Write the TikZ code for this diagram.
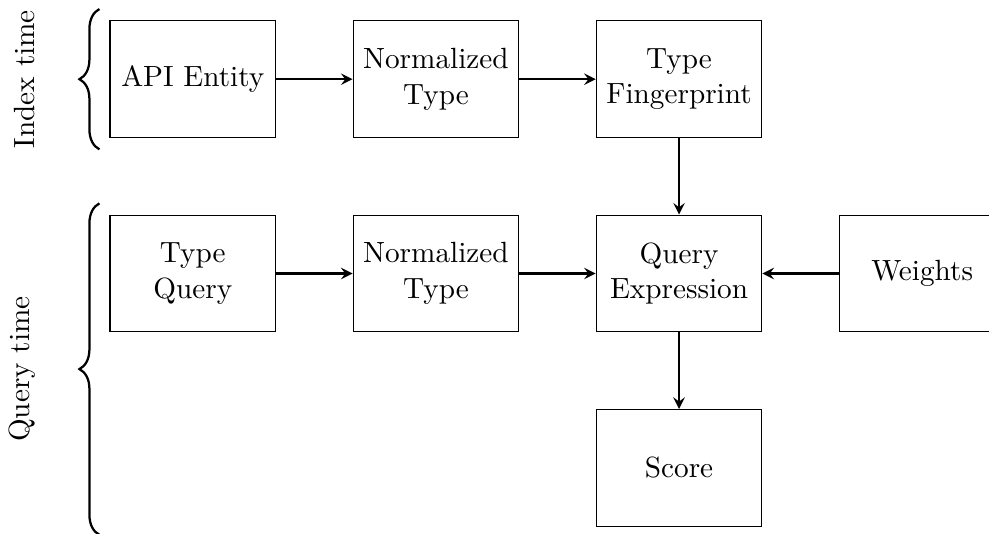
\documentclass[tikz,border=0pt]{standalone}
\usetikzlibrary{arrows,positioning,calc,decorations.pathreplacing}

\begin{document}
\begin{tikzpicture}[auto, node distance=0.955cm,
    every node/.style={font=\fontsize{10.4pt}{12.6pt}\selectfont},
    box/.style={rectangle, draw, minimum width=2.07cm, minimum height=1.46cm, align=center},
    flow/.style={-stealth, thick},
    bracestyle/.style={decorate, decoration={brace, amplitude=0.25cm}, thick}]
    \useasboundingbox (0,0) rectangle (12.3625,-6.675);

    % index time row
    \node[box] (api) at (2.41,-0.99) {API Entity};
    \node[box, right=of api] (ntype) {Normalized\\Type};
    \node[box, right=of ntype] (fp) {Type\\Fingerprint};

    % query time rows
    \node[box, below=of api] (tquery) {Type\\Query};
    \node[box, right=of tquery] (nquery) {Normalized\\Type};
    \node[box, right=of nquery] (qexpr) {Query\\Expression};
    \node[box, right=of qexpr] (weights) {Weights};
    \node[box, below=of qexpr] (score) {Score};

    \draw[flow] (api) -- (ntype);
    \draw[flow] (ntype) -- (fp);
    \draw[flow] (fp) -- (qexpr);
    \draw[flow] (tquery) -- (nquery);
    \draw[flow] (nquery) -- (qexpr);
    \draw[flow] (weights) -- (qexpr);
    \draw[flow] (qexpr) -- (score);

    % braces and their labels
    \coordinate (ibot) at ($(api.south west)+(-0.125,-0.14)$);
    \coordinate (itop) at ($(api.north west)+(-0.125,0.14)$);
    \coordinate (qbot) at ($(tquery.west |- score.south)+(-0.125,-0.1)$);
    \coordinate (qtop) at ($(tquery.north west)+(-0.125,0.14)$);
    \draw[bracestyle] (ibot) -- (itop);
    \draw[bracestyle] (qbot) -- (qtop);
    \node[rotate=90] (idxlabel) at ($(ibot)!0.5!(itop)+(-0.94,0)$) {Index time};
    \node[rotate=90] (qrylabel) at ($(qbot)!0.5!(qtop)+(-0.97,0)$) {Query time};
\end{tikzpicture}
\end{document}
